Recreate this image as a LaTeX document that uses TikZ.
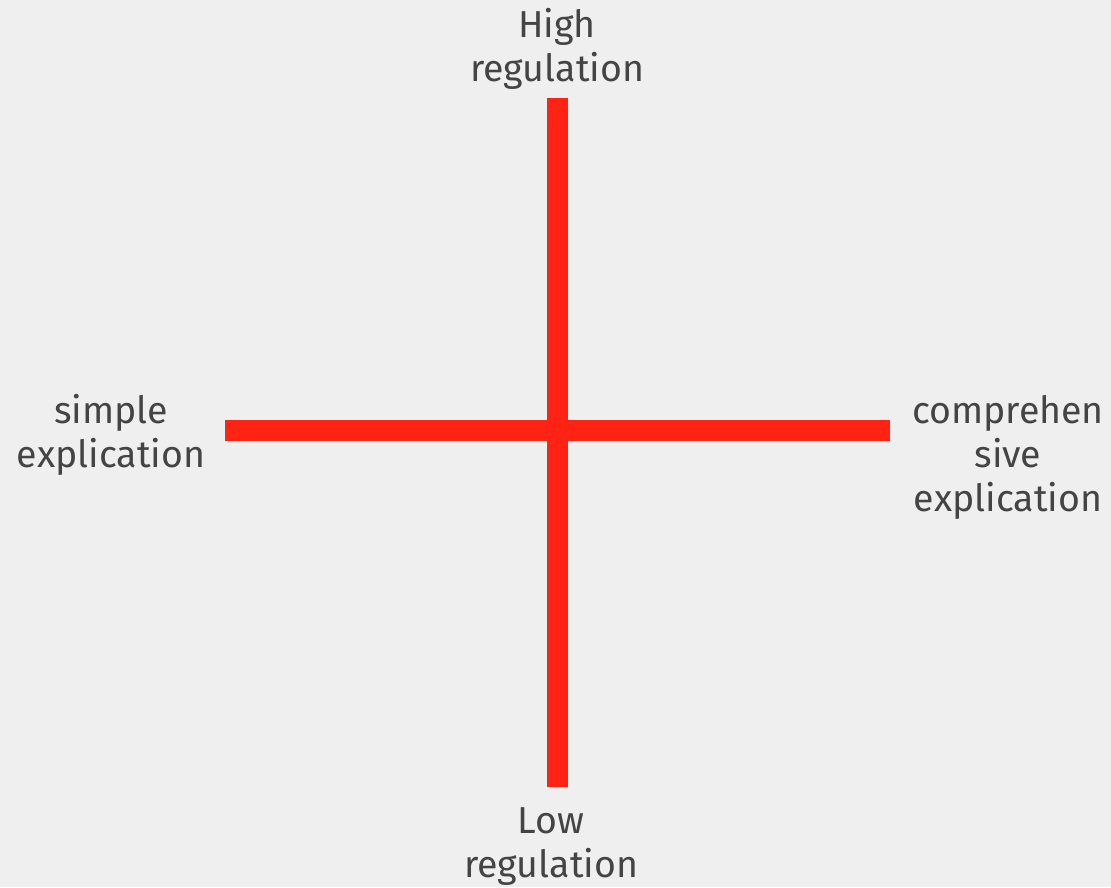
\documentclass[tikz,border=0pt]{standalone}
\usepackage{fontspec}
\setmainfont{Fira Sans}
\usetikzlibrary{positioning}
\definecolor{bggray}{RGB}{239,239,239}
\definecolor{axisred}{RGB}{255,35,20}
\definecolor{labelgray}{RGB}{68,68,68}
\tikzset{
  axisbar/.style={line width=21pt, color=axisred, line cap=butt},
  axislabel/.style={align=center, inner sep=0pt, text=labelgray,
    font=\fontsize{37.5}{44}\selectfont},
}

\begin{document}
\begin{tikzpicture}[x=1pt, y=-1pt]

  %% Canvas
  \fill[bggray] (0,0) rectangle (1111,887);
  \useasboundingbox (0,0) rectangle (1111,887);

  %% Axis end points
  \coordinate (vtop)   at (557.5,98);
  \coordinate (vbot)   at (557.5,787);
  \coordinate (hleft)  at (225,430.5);
  \coordinate (hright) at (890,430.5);

  %% Axes
  \draw[axisbar] (hleft) -- (hright);
  \draw[axisbar] (vtop)  -- (vbot);

  %% Labels
  \node[axislabel] (high)   at (557,49)   {High\\regulation};
  \node[axislabel] (low)    at (551,847)  {Low\\regulation};
  \node[axislabel] (simple) at (111,435)  {simple\\explication};
  \node[axislabel] (compr)  at (1008,457) {comprehen\\sive\\explication};

\end{tikzpicture}
\end{document}
